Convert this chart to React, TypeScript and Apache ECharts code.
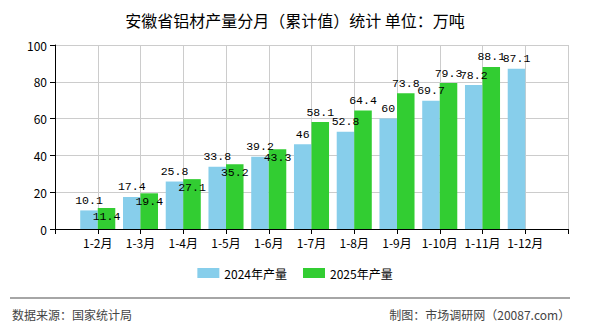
import React, { useEffect, useRef } from "react";
import * as echarts from "echarts";

const categories = ["", "1-2月", "1-3月", "1-4月", "1-5月", "1-6月", "1-7月", "1-8月", "1-9月", "1-10月", "1-11月", "1-12月", ""];
const values2024: (number | null)[] = [null, 10.1, 17.4, 25.8, 33.8, 39.2, 46, 52.8, 60, 69.7, 78.2, 87.1, null];
const values2025: (number | null)[] = [null, 11.4, 19.4, 27.1, 35.2, 43.3, 58.1, 64.4, 73.8, 79.3, 88.1, null, null];
const insideLabelCount = 5; // first 2025 labels drawn inside bar top
const yTicks = { min: 0, max: 100, interval: 20 };

export default function App() {
  const ref = useRef<HTMLDivElement>(null);
  useEffect(() => {
    if (!ref.current) return;
    const chart = echarts.init(ref.current, undefined, { renderer: "svg" });
    const labelFont = { fontFamily: "Liberation Mono", fontSize: 11.5, color: "#000" };
    const data2025 = values2025.map((v, i) =>
      v == null
        ? null
        : i >= 1 && i <= insideLabelCount
        ? { value: v, label: { position: "insideTop", distance: 2 } }
        : { value: v }
    );
    chart.setOption({
      animation: false,
      textStyle: { fontFamily: "Noto Sans CJK SC, sans-serif" },
      title: {
        text: "安徽省铝材产量分月（累计值）统计 单位：万吨",
        left: "center",
        top: 7,
        textStyle: { fontSize: 16, fontWeight: "normal", color: "#000", fontFamily: "Noto Sans CJK SC" },
      },
      grid: { left: 55, right: 22, top: 45, bottom: 101, containLabel: false },
      legend: {
        bottom: 46,
        left: "center",
        itemWidth: 22,
        itemHeight: 10,
        itemGap: 16,
        icon: "rect",
        textStyle: { fontSize: 12, color: "#000" },
        data: ["2024年产量", "2025年产量"],
      },
      xAxis: {
        type: "category",
        data: categories,
        boundaryGap: false,
        axisLine: { lineStyle: { color: "#000" } },
        axisTick: { show: true, length: 5, lineStyle: { color: "#000" } },
        axisLabel: { interval: 0, color: "#000", fontSize: 12, margin: 7 },
        splitLine: { show: true, lineStyle: { color: "#ccc" } },
      },
      yAxis: {
        type: "value",
        min: yTicks.min,
        max: yTicks.max,
        interval: yTicks.interval,
        axisLine: { show: true, lineStyle: { color: "#000" } },
        axisTick: { show: true, length: 5, lineStyle: { color: "#000" } },
        axisLabel: { color: "#000", fontSize: 12, margin: 8 },
        splitLine: { show: true, lineStyle: { color: "#ccc" } },
      },
      series: [
        {
          name: "2024年产量",
          type: "bar",
          data: values2024,
          barGap: "0%",
          barCategoryGap: "18%",
          itemStyle: { color: "#87CEEB" },
          label: { show: true, position: "top", distance: 4, ...labelFont },
        },
        {
          name: "2025年产量",
          type: "bar",
          data: data2025,
          barGap: "0%",
          barCategoryGap: "18%",
          itemStyle: { color: "#32CD32" },
          label: { show: true, position: "top", distance: 4, ...labelFont },
        },
      ],
      graphic: [
        {
          type: "line",
          shape: { x1: 10, y1: 298, x2: 570, y2: 298 },
          style: { stroke: "#888", lineWidth: 1.5 },
        },
        {
          type: "text",
          left: 12,
          top: 308,
          style: { text: "数据来源：国家统计局", fontSize: 12, fill: "#444", fontFamily: "Noto Sans CJK SC" },
        },
        {
          type: "text",
          right: 20,
          top: 308,
          style: { text: "制图：市场调研网（20087.com）", fontSize: 12, fill: "#444", fontFamily: "Noto Sans CJK SC" },
        },
      ],
    });
    return () => chart.dispose();
  }, []);
  return <div ref={ref} style={{ width: 590, height: 330, margin: -8 }} />;
}
